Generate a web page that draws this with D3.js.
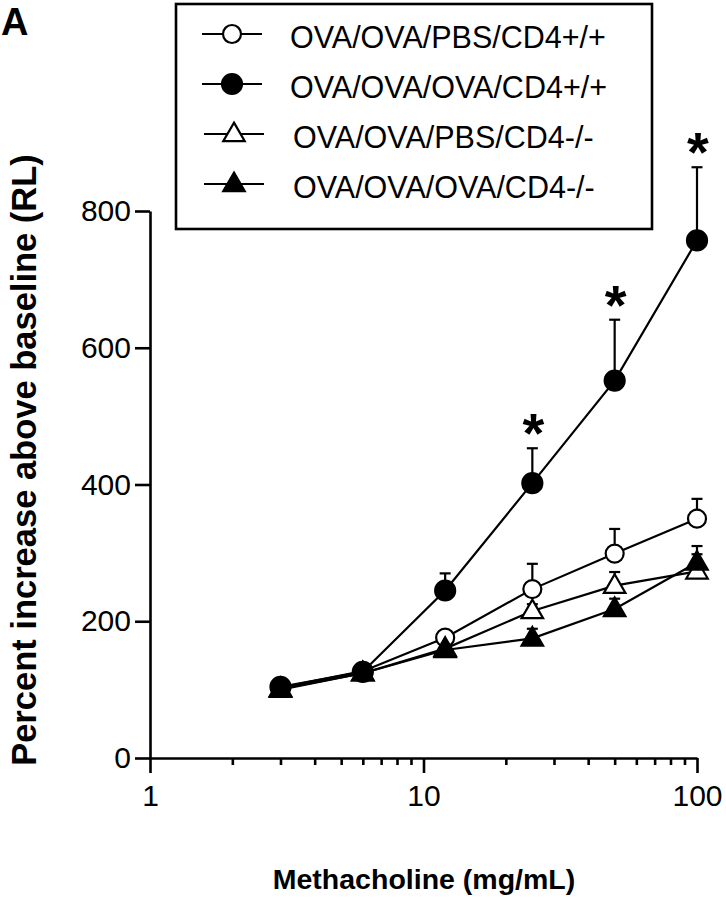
<!DOCTYPE html>
<html>
<head>
<meta charset="utf-8">
<script src="https://cdn.jsdelivr.net/npm/d3@7"></script>
<style>
  html, body { margin: 0; padding: 0; background: #fff; }
  svg { display: block; }
  text { font-family: "Liberation Sans", Arial, Helvetica, sans-serif; fill: #000; }
</style>
</head>
<body>
<svg id="chart" width="726" height="899"></svg>
<script>
// ---------------- data ----------------
const doses = [3, 6, 12, 25, 50, 100];
const seriesNames = ["OVA/OVA/PBS/CD4+/+", "OVA/OVA/OVA/CD4+/+", "OVA/OVA/PBS/CD4-/-", "OVA/OVA/OVA/CD4-/-"];
const seriesShapes = ["circle", "circle", "triangle", "triangle"];
const seriesFilled = [false, true, false, true];
const pbsWT   = [103, 127, 176, 247, 299, 350];
const ovaWT   = [104, 126, 245, 402, 552, 757];
const pbsKO   = [101, 124, 160, 215, 252, 273];
const ovaKO   = [100, 124, 158, 175, 218, 286];
const pbsWTErr = [4, 4, 6, 37, 36, 29];
const ovaWTErr = [4, 4, 25, 51, 89, 107];
const pbsKOErr = [3, 3, 5, 10, 20, 37];
const ovaKOErr = [3, 3, 5, 14, 15, 12];
const seriesValues = [pbsWT, ovaWT, pbsKO, ovaKO];
const seriesErrors = [pbsWTErr, ovaWTErr, pbsKOErr, ovaKOErr];
const significant = [false, false, false, true, true, true]; // '*' over OVA/OVA/OVA/CD4+/+
const yTicks = [0, 200, 400, 600, 800];
const xMajorTicks = [1, 10, 100];
const xMinorTicks = [2, 3, 4, 5, 6, 7, 8, 9, 20, 30, 40, 50, 60, 70, 80, 90];
const yTitle = "Percent increase above baseline (RL)";
const xTitle = "Methacholine (mg/mL)";
const panelLabel = "A";

// ---------------- layout ----------------
const svg = d3.select("#chart");
const x = d3.scaleLog().domain([1, 100]).range([150, 697]);
const y = d3.scaleLinear().domain([0, 800]).range([758, 211]);

// axes
const yAxis = svg.append("g").attr("transform", "translate(150,0)")
  .call(d3.axisLeft(y).tickValues(yTicks).tickSize(15).tickSizeOuter(0).tickPadding(4).tickFormat(d3.format("d")));
yAxis.selectAll("text").style("font-size", "30px");

const xAxis = svg.append("g").attr("transform", "translate(0,758)")
  .call(d3.axisBottom(x).tickValues(xMajorTicks).tickSize(15).tickSizeOuter(0).tickPadding(12).tickFormat(d3.format("d")));
xAxis.selectAll("text").style("font-size", "30px");

const xMinor = svg.append("g").attr("transform", "translate(0,758)")
  .call(d3.axisBottom(x).tickValues(xMinorTicks).tickSize(7).tickSizeOuter(0).tickFormat(""));
xMinor.select(".domain").remove();

svg.selectAll(".domain, .tick line").attr("stroke", "#000").attr("stroke-width", 2.6);

// titles
svg.append("text")
  .attr("transform", "translate(36,460) rotate(-90)")
  .attr("text-anchor", "middle")
  .style("font-size", "34.5px").style("font-weight", "bold")
  .text(yTitle);

svg.append("text")
  .attr("x", 424).attr("y", 889)
  .attr("text-anchor", "middle")
  .style("font-size", "28.5px").style("font-weight", "bold")
  .text(xTitle);

svg.append("text")
  .attr("x", 1).attr("y", 35)
  .style("font-size", "38px").style("font-weight", "bold")
  .text(panelLabel);

// marker drawing
const triSym = d3.symbol().type(d3.symbolTriangle).size(200);
function drawMarker(g, shape, filled, cx, cy) {
  if (shape === "circle") {
    g.append("circle").attr("cx", cx).attr("cy", cy).attr("r", filled ? 10 : 9)
      .attr("fill", filled ? "#000" : "#fff").attr("stroke", "#000").attr("stroke-width", 2.2);
  } else {
    g.append("path").attr("d", triSym).attr("transform", `translate(${cx},${cy + 1})`)
      .attr("fill", filled ? "#000" : "#fff").attr("stroke", "#000").attr("stroke-width", 2.2);
  }
}

const line = d3.line().x(d => x(d[0])).y(d => y(d[1]));
const plot = svg.append("g");

// lines first
seriesValues.forEach((vals, si) => {
  plot.append("path")
    .datum(doses.map((d, i) => [d, vals[i]]))
    .attr("d", line).attr("fill", "none").attr("stroke", "#000").attr("stroke-width", 2.2);
});

// error bars (upper only)
seriesValues.forEach((vals, si) => {
  const errs = seriesErrors[si];
  doses.forEach((d, i) => {
    const cx = x(d), top = y(vals[i] + errs[i]);
    plot.append("line").attr("x1", cx).attr("x2", cx).attr("y1", y(vals[i])).attr("y2", top)
      .attr("stroke", "#000").attr("stroke-width", 2.2);
    plot.append("line").attr("x1", cx - 5.5).attr("x2", cx + 5.5).attr("y1", top).attr("y2", top)
      .attr("stroke", "#000").attr("stroke-width", 2.2);
  });
});

// markers
seriesValues.forEach((vals, si) => {
  const g = plot.append("g");
  doses.forEach((d, i) => drawMarker(g, seriesShapes[si], seriesFilled[si], x(d), y(vals[i])));
});

// significance stars
doses.forEach((d, i) => {
  if (!significant[i]) return;
  svg.append("text")
    .attr("x", x(d) + 1).attr("y", y(ovaWT[i] + ovaWTErr[i]) + 4)
    .attr("text-anchor", "middle")
    .style("font-size", "56px").style("font-weight", "bold")
    .text("*");
});

// legend
const legend = svg.append("g");
legend.append("rect").attr("x", 176).attr("y", 4).attr("width", 476).attr("height", 225)
  .attr("fill", "#fff").attr("stroke", "#000").attr("stroke-width", 2.6);
const rowY = d3.scalePoint().domain(d3.range(seriesNames.length)).range([34, 184]);
seriesNames.forEach((name, si) => {
  const ry = rowY(si);
  const lx = si < 2 ? 202 : 204;
  legend.append("line").attr("x1", lx).attr("x2", lx + 60).attr("y1", ry).attr("y2", ry)
    .attr("stroke", "#000").attr("stroke-width", 2.2);
  drawMarker(legend, seriesShapes[si], seriesFilled[si], lx + 30, ry);
  legend.append("text").attr("x", si < 2 ? 290 : 293).attr("y", ry + 14)
    .style("font-size", "30.5px").text(name);
});
</script>
</body>
</html>
